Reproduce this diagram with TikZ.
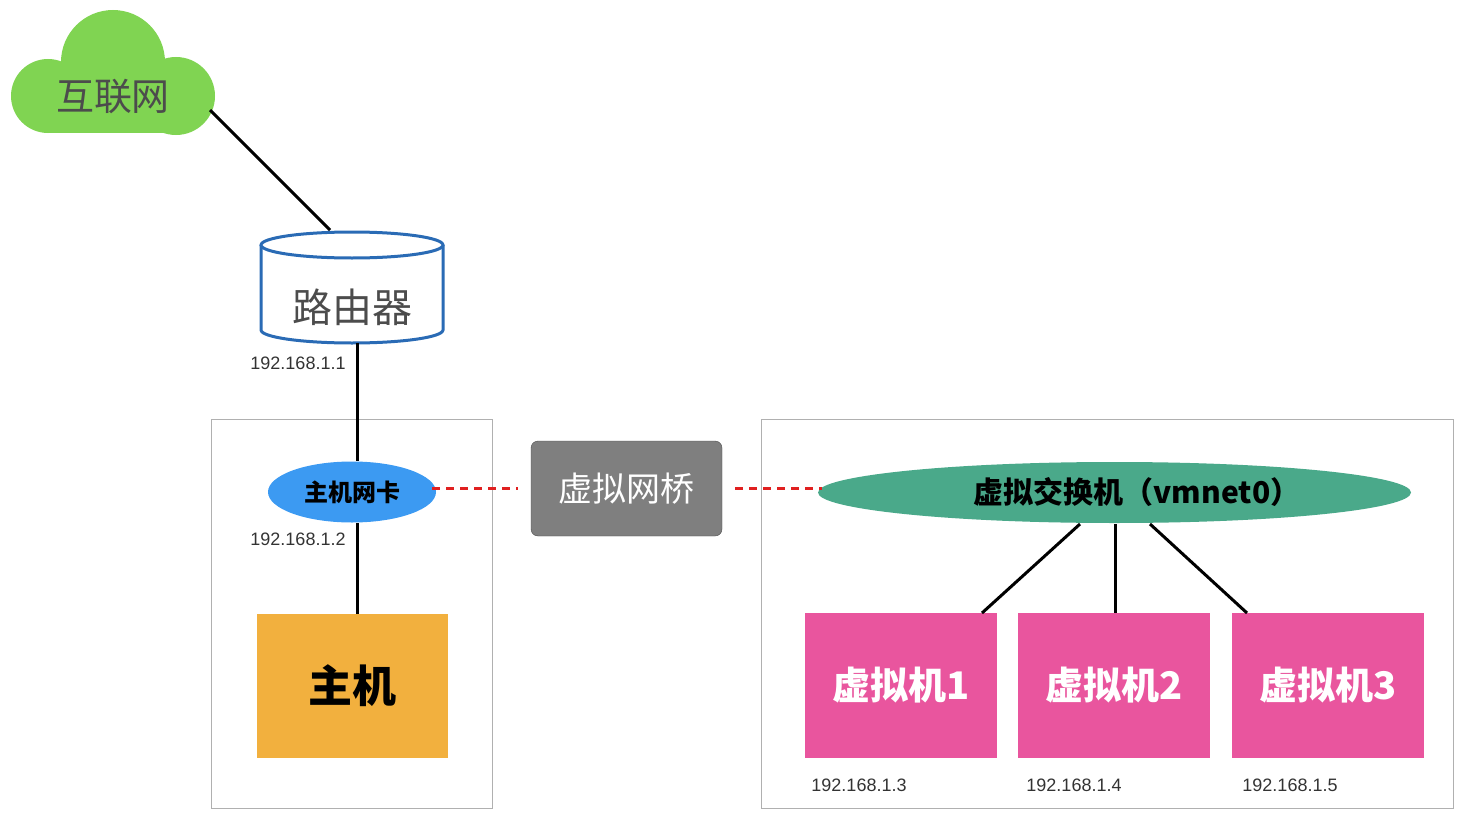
\documentclass[tikz,border=0pt]{standalone}
\usepackage{fontspec}
\usetikzlibrary{shapes.geometric}
\setmainfont{Liberation Sans}
\newfontfamily\cjk{Noto Sans CJK SC}
\definecolor{cloudg}{HTML}{80D452}
\definecolor{rblue}{HTML}{2A6BB5}
\definecolor{nicb}{HTML}{3C9AF2}
\definecolor{hosto}{HTML}{F2B03E}
\definecolor{swg}{HTML}{4AA98A}
\definecolor{vmp}{HTML}{E9559E}
\definecolor{brg}{HTML}{7F7F7F}
\definecolor{boxg}{HTML}{B0B0B0}
\definecolor{dred}{HTML}{E02020}
\begin{document}
\begin{tikzpicture}[x=1pt,y=-1pt,
  ip/.style={font=\fontsize{18}{18}\selectfont,text=black!80},
  conn/.style={line width=3pt,black},
  reddash/.style={line width=3pt,dred,dash pattern=on 8pt off 6pt},
  frame/.style={draw=boxg,line width=1pt},
  vm/.style={fill=vmp,minimum width=192pt,minimum height=145pt,inner sep=0,text=white,font=\cjk\bfseries\fontsize{38}{38}\selectfont}]
\useasboundingbox (0,0) rectangle (1470,816);
% cloud
\fill[cloudg] (113,62) circle (52) (48,96) circle (37) (176,96) circle (39);
\fill[cloudg] (48,74) rectangle (176,133);
\node (net) at (113,97) {\cjk\fontsize{38}{38}\selectfont\color{black!70}互联网};
\coordinate (netc) at (210,110);
% router cylinder
\draw[rblue,line width=3pt,fill=white] (261,245) -- (261,330) arc[start angle=180,end angle=0,x radius=91,y radius=13] -- (443,245);
\draw[rblue,line width=3pt,fill=white] (352,245) ellipse[x radius=91,y radius=13];
\node (router) at (352,307) {\cjk\fontsize{40}{40}\selectfont\color{black!70}路由器};
\coordinate (rtop) at (330,230);
\coordinate (rbot) at (357,343);
\node[ip] (ip1) at (298,363) {192.168.1.1};
\draw[conn] (netc) -- (rtop);
% left frame
\node[frame,minimum width=281pt,minimum height=389pt,anchor=north west,inner sep=0] (lbox) at (211,419) {};
\node[ellipse,fill=nicb,minimum width=168pt,minimum height=61pt,inner sep=0,font=\cjk\bfseries\fontsize{24}{24}\selectfont] (nic) at (352,492) {主机网卡};
\draw[conn] (rbot) -- (nic.north -| rbot);
\node[ip] (ip2) at (298,539) {192.168.1.2};
\node[fill=hosto,minimum width=191pt,minimum height=144pt,inner sep=0,font=\cjk\bfseries\fontsize{44}{44}\selectfont] (host) at (352.5,686) {主机};
\draw[conn] (357,523) -- (host.north -| rbot);
% bridge
\node[fill=brg,draw=black!70,rounded corners=7pt,minimum width=191pt,minimum height=95pt,inner sep=0,text=white,font=\cjk\fontsize{34}{34}\selectfont] (br) at (626.5,488.5) {虚拟网桥};
% right frame
\node[frame,minimum width=692pt,minimum height=389pt,anchor=north west,inner sep=0] (rbox) at (761,419) {};
\node[ellipse,fill=swg,minimum width=593pt,minimum height=61pt,inner sep=0] (sw) at (1114.5,492.5) {};
\node[font=\cjk\bfseries\fontsize{30}{30}\selectfont] (swt) at (1137,492) {虚拟交换机（vmnet0）};
\draw[reddash] ([xshift=-4pt]nic.east |- br.west) -- ([xshift=-13pt]br.west);
\draw[reddash] ([xshift=13pt]br.east) -- ([xshift=4pt]sw.west |- br.east);
\node[vm] (vm1) at (901,685.5) {虚拟机1};
\node[vm] (vm2) at (1114,685.5) {虚拟机2};
\node[vm] (vm3) at (1328,685.5) {虚拟机3};
\coordinate (s1) at (1080,524);
\coordinate (s2) at (1115,524);
\coordinate (s3) at (1150,524);
\draw[conn] (s1) -- (982,613);
\draw[conn] (s2) -- (1115,613);
\draw[conn] (s3) -- (1247,613);
\node[ip] (ip3) at (859,785) {192.168.1.3};
\node[ip] (ip4) at (1074,785) {192.168.1.4};
\node[ip] (ip5) at (1290,785) {192.168.1.5};
\end{tikzpicture}
\end{document}
